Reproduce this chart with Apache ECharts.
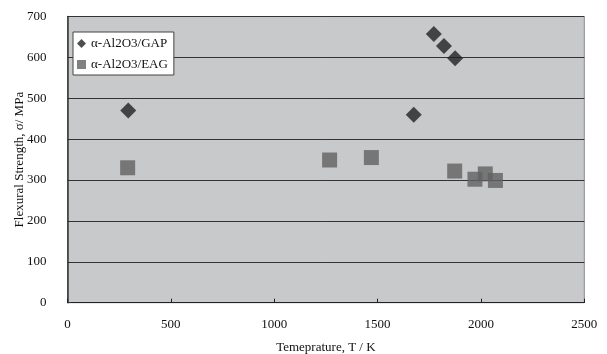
<!DOCTYPE html>
<html>
<head>
<meta charset="utf-8">
<script src="https://cdn.jsdelivr.net/npm/echarts@6/dist/echarts.min.js"></script>
<style>
  html, body { margin: 0; padding: 0; background: #ffffff; }
  #chart { width: 607px; height: 354px; }
</style>
</head>
<body>
<div id="chart"></div>
<script>
// Flexural strength vs. temperature for two eutectic ceramics
const seriesNames = ['α-Al2O3/GAP', 'α-Al2O3/EAG'];

const gapTemp = [294, 1675, 1772, 1821, 1875];
const gapStrength = [470, 460, 657, 628, 598];

const eagTemp = [291, 1268, 1470, 1873, 1971, 2021, 2070];
const eagStrength = [330, 349, 355, 322, 302, 315, 299];

const xTicks = { min: 0, max: 2500, interval: 500 };
const yTicks = { min: 0, max: 700, interval: 100 };

const pairs = (xs, ys) => xs.map((x, i) => [x, ys[i]]);
const plain = v => String(v);

const serif = '"Liberation Serif", "DejaVu Serif", serif';
const chart = echarts.init(document.getElementById('chart'), null, { renderer: 'canvas' });

chart.setOption({
  animation: false,
  backgroundColor: '#ffffff',
  grid: {
    left: 67.5, right: 22.7, top: 16.5, bottom: 51.3,
    outerBoundsMode: 'none',
    containLabel: false,
    show: true,
    backgroundColor: '#c8c9cb',
    borderColor: '#8a8a8a',
    borderWidth: 1
  },
  legend: {
    orient: 'vertical',
    left: 73, top: 32,
    padding: [5, 6, 4, 4],
    itemGap: 8,
    itemWidth: 9, itemHeight: 9,
    backgroundColor: '#ffffff',
    borderColor: '#444444',
    borderWidth: 1,
    borderRadius: 0,
    textStyle: { fontFamily: serif, fontSize: 13, color: '#111111' },
    data: [
      { name: seriesNames[0], icon: 'diamond' },
      { name: seriesNames[1], icon: 'rect' }
    ]
  },
  xAxis: {
    type: 'value',
    min: xTicks.min, max: xTicks.max, interval: xTicks.interval,
    name: 'Temeprature, T / K',
    nameLocation: 'middle',
    nameGap: 38,
    nameMoveOverlap: false,
    nameTextStyle: { fontFamily: serif, fontSize: 13, color: '#111111' },
    axisLine: { show: true, lineStyle: { color: '#222222', width: 1 } },
    axisTick: { show: true, inside: true, length: 4, lineStyle: { color: '#222222' } },
    axisLabel: { fontFamily: serif, fontSize: 13, color: '#111111', margin: 15, formatter: plain },
    splitLine: { show: false }
  },
  yAxis: {
    type: 'value',
    min: yTicks.min, max: yTicks.max, interval: yTicks.interval,
    name: 'Flexural Strength, σ/ MPa',
    nameLocation: 'middle',
    nameGap: 41,
    nameMoveOverlap: false,
    nameTextStyle: { fontFamily: serif, fontSize: 13, color: '#111111' },
    axisLine: { show: true, lineStyle: { color: '#333333', width: 1.5 } },
    axisTick: { show: true, inside: true, length: 4, lineStyle: { color: '#333333' } },
    axisLabel: { fontFamily: serif, fontSize: 13, color: '#111111', margin: 21, formatter: plain },
    splitLine: { show: true, lineStyle: { color: '#333333', width: 1 } }
  },
  series: [
    {
      name: seriesNames[0],
      type: 'scatter',
      symbol: 'diamond',
      symbolSize: 16,
      itemStyle: { color: '#222222' },
      data: pairs(gapTemp, gapStrength),
      z: 3
    },
    {
      name: seriesNames[1],
      type: 'scatter',
      symbol: 'rect',
      symbolSize: 15,
      itemStyle: { color: '#626262' },
      data: pairs(eagTemp, eagStrength),
      z: 2
    }
  ]
});
</script>
</body>
</html>
